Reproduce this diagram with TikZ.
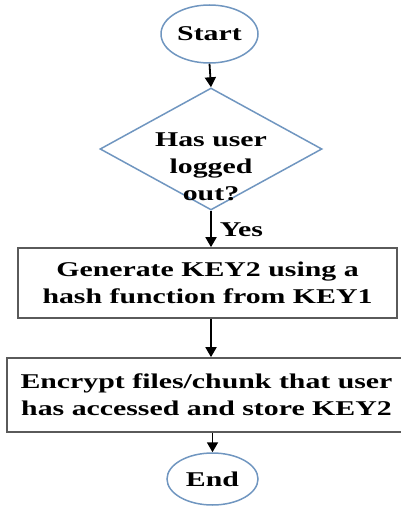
\documentclass[tikz,border=0pt]{standalone}
\usepackage{fontspec}
\setmainfont{Liberation Serif}[FakeStretch=1.42]
\usetikzlibrary{shapes.geometric,arrows.meta}
\definecolor{outlineblue}{RGB}{112,150,192}
\definecolor{boxgray}{RGB}{90,90,90}
\begin{document}
\begin{tikzpicture}[x=1pt,y=-1pt,
  every node/.style={font=\bfseries\fontsize{21}{27}\selectfont, inner sep=0pt, align=center},
  term/.style={ellipse, draw=outlineblue, line width=1.5pt},
  decis/.style={diamond, draw=outlineblue, line width=1.5pt},
  procbox/.style={rectangle, draw=boxgray, line width=1.7pt},
  flow/.style={draw=black, line width=1.8pt, -{Triangle[length=10pt,width=11pt]}}]
\useasboundingbox (0,0) rectangle (401,508);
\node[term, minimum width=97pt, minimum height=58pt] (start) at (209.5,34) {Start};
\node[decis, minimum width=222pt, minimum height=122pt] (dec) at (211,149) {};
\node (dectext) at (211,167) {Has user\\logged\\out?};
\node[procbox, minimum width=379pt, minimum height=70pt] (gen) at (207.5,283) {Generate KEY2 using a\\hash function from KEY1};
\node[procbox, minimum width=399pt, minimum height=74pt] (enc) at (206.5,395) {Encrypt files/chunk that user\\has accessed and store KEY2};
\node[term, minimum width=91pt, minimum height=52pt] (end) at (212.5,479) {End};
\draw[flow] (start.south) -- (dec.north);
\draw[flow] (dec.south) -- node[right, xshift=8pt, yshift=-1pt] (yes) {Yes} (dec.south |- gen.north);
\draw[flow] (gen.south -| 211,0) -- (211,0 |- enc.north);
\draw[flow] (enc.south -| end.north) -- (end.north);
\end{tikzpicture}
\end{document}
